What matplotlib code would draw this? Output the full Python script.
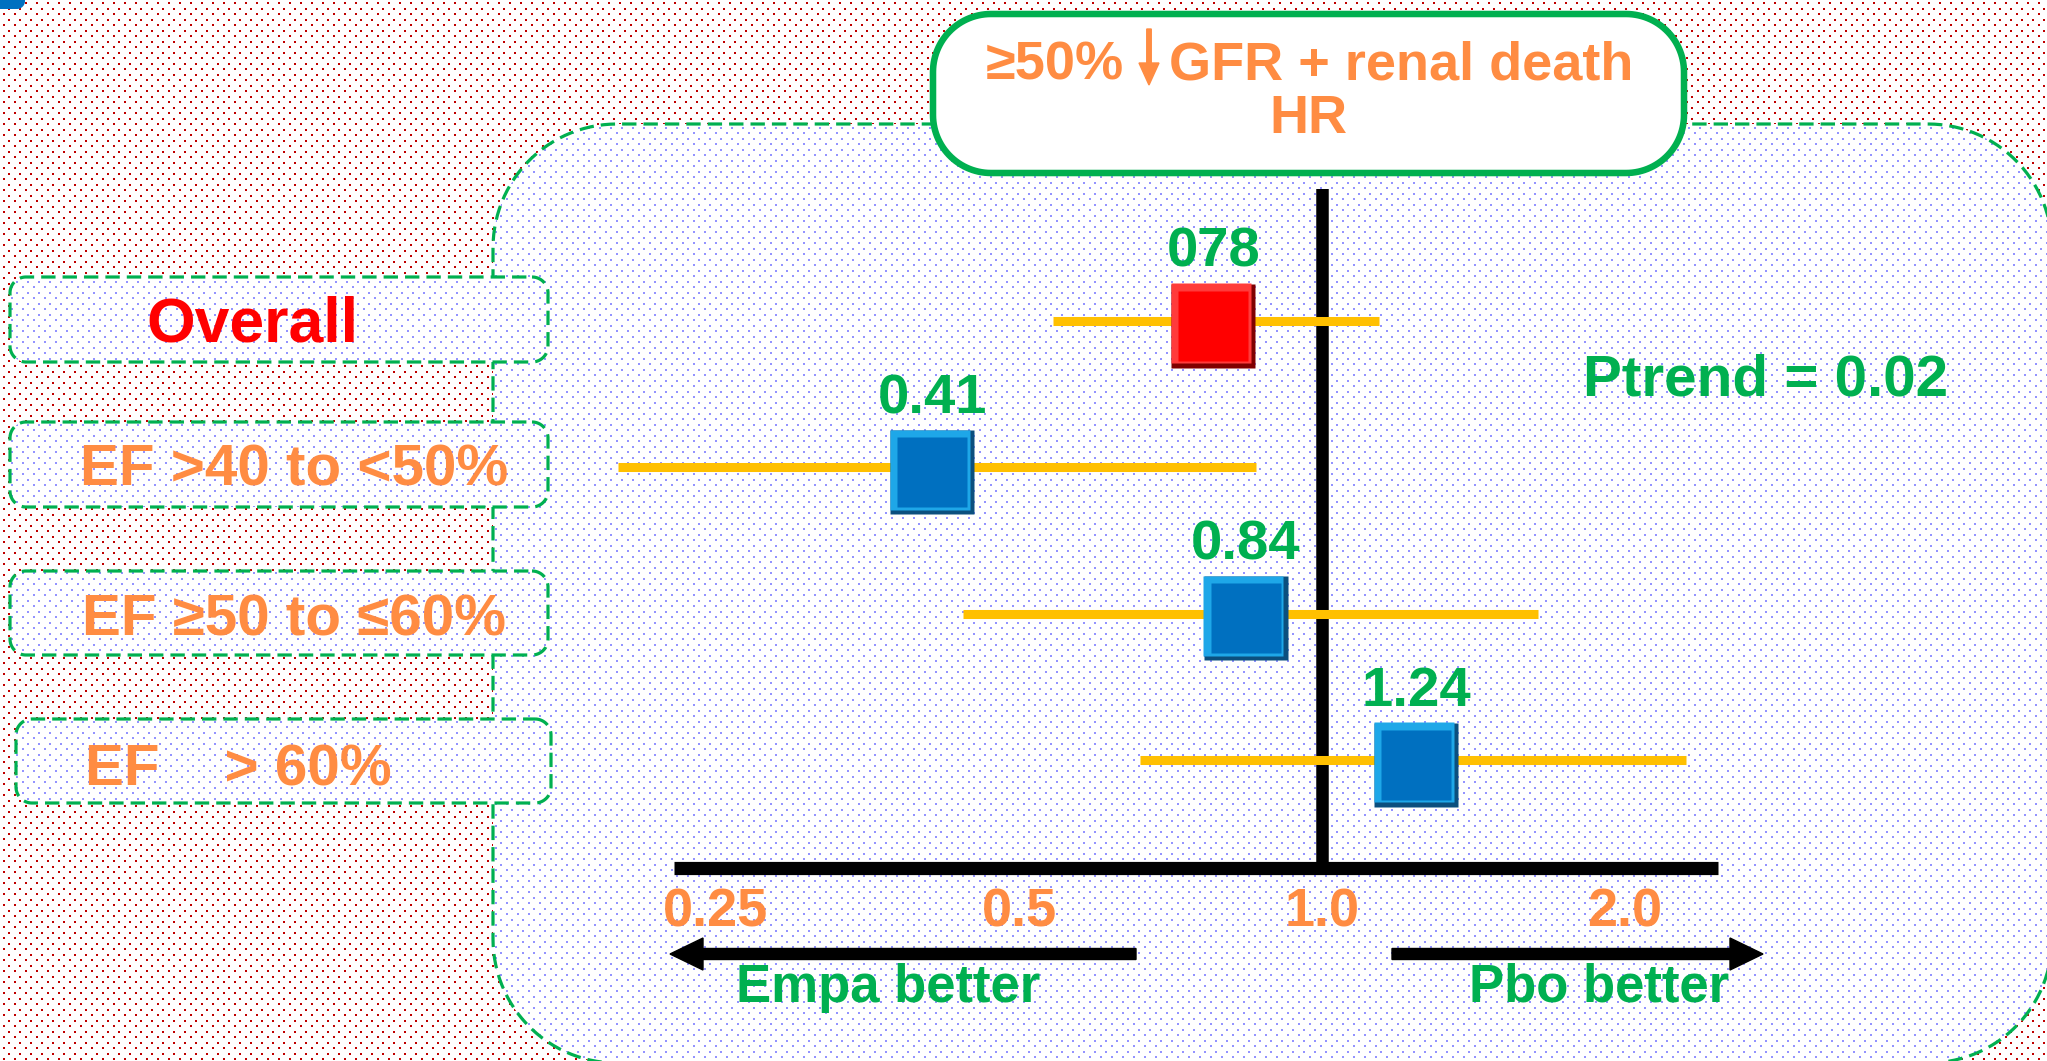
import numpy as np
import matplotlib.pyplot as plt
from matplotlib.patches import Polygon, FancyArrow
from matplotlib.ticker import NullLocator
from matplotlib.transforms import offset_copy

plt.rcParams['font.family'] = ['Liberation Sans', 'DejaVu Sans']
plt.rcParams['font.weight'] = 'bold'

# subgroup results (hazard ratio with 95% CI)
groups = ['Overall', 'EF >40 to <50%', 'EF \u226550 to \u226460%', 'EF    > 60%']
hr = [0.78, 0.41, 0.84, 1.24]
hr_text = ['078', '0.41', '0.84', '1.24']
ci_low = [0.54, 0.20, 0.44, 0.66]
ci_high = [1.14, 0.86, 1.64, 2.30]
p_trend = '0.02'
tick_vals = [0.25, 0.5, 1.0, 2.0]
tick_text = ['0.25', '0.5', '1.0', '2.0']

ORANGE = '#FF8C42'
GREEN = '#00B050'
GOLD = '#FFC000'

W, H = 2047, 1061
fig = plt.figure(figsize=(W / 100, H / 100), dpi=100)

# background canvas in pixel units (y grows downwards)
bg = fig.add_axes([0, 0, 1, 1])
bg.set_xlim(0, W)
bg.set_ylim(H, 0)
bg.axis('off')


def dot_grid(step=11):
    xs = np.arange(0, W + step, step)
    ys = np.arange(0, H + step, step)
    gx, gy = np.meshgrid(xs, ys)
    px = np.concatenate([gx.ravel(), gx.ravel() + step // 2])
    py = np.concatenate([gy.ravel(), gy.ravel() + step // 2 + 1])
    return px + 0.5, py + 0.5


def rounded_rect(x0, y0, x1, y1, r, n=30):
    pts = []
    for cx, cy, a0 in [(x1 - r, y0 + r, -90), (x1 - r, y1 - r, 0),
                       (x0 + r, y1 - r, 90), (x0 + r, y0 + r, 180)]:
        ang = np.radians(np.linspace(a0, a0 + 90, n))
        pts += list(zip(cx + r * np.cos(ang), cy + r * np.sin(ang)))
    return np.array(pts)


dx, dy = dot_grid()

# red dotted backdrop
bg.scatter(dx + 3, dy + 2, s=4.2, marker='s', c='#C00000', linewidths=0, zorder=0)

# top-left tab
bg.add_patch(Polygon(rounded_rect(-40, -40, 25, 9, 8), closed=True, fc='#0070C0', ec='none', zorder=1))


def dotted_box(x0, y0, x1, y1, r, z):
    shape = rounded_rect(x0, y0, x1, y1, r)
    box = Polygon(shape, closed=True, fc='white', ec='none', zorder=z)
    bg.add_patch(box)
    dots = bg.scatter(dx, dy, s=2.6, marker='s', c='#9393FF', linewidths=0, zorder=z + 0.1)
    dots.set_clip_path(box)
    bg.add_patch(Polygon(shape, closed=True, fc='none', ec=GREEN, lw=2.3,
                         ls=(0, (4.5, 2.2)), zorder=z + 0.2))


# main panel
dotted_box(493, 124, 2052, 1063, 124, 1)

# row label boxes
boxes = [(10, 277, 548, 362), (10, 422, 548, 507), (10, 571, 548, 655), (16, 719, 551, 803)]
for bx0, by0, bx1, by1 in boxes:
    dotted_box(bx0, by0, bx1, by1, 16, 2)

label_pos = [(252, 341), (294, 486), (294, 636), (238, 785)]
label_col = ['#FF0000', ORANGE, ORANGE, ORANGE]
label_size = [45, 42, 42, 42]
for name, (lx, ly), col, fs in zip(groups, label_pos, label_col, label_size):
    bg.text(lx, ly, name, ha='center', va='baseline', color=col, fontsize=fs, zorder=3)

# title box
bg.add_patch(Polygon(rounded_rect(933, 14, 1684, 173, 58), closed=True,
                     fc='white', ec=GREEN, lw=4.7, zorder=4))
bg.text(1124, 80, '\u226550%', ha='right', va='baseline', color=ORANGE, fontsize=39, zorder=5)
bg.add_patch(FancyArrow(1149, 29, 0, 56, width=4.5, head_width=20, head_length=22,
                        length_includes_head=True, color=ORANGE, zorder=5))
bg.text(1169, 80, 'GFR + renal death', ha='left', va='baseline', color=ORANGE, fontsize=39, zorder=5)
bg.text(1308, 133, 'HR', ha='center', va='baseline', color=ORANGE, fontsize=39, zorder=5)

bg.text(1766, 396, 'Ptrend = ' + p_trend, ha='center', va='baseline', color=GREEN,
        fontsize=42, zorder=5)

# direction arrows under the axis
bg.add_patch(FancyArrow(1136, 954, 670 - 1136, 0, width=11, head_width=32, head_length=33,
                        length_includes_head=True, color='black', zorder=5))
bg.add_patch(FancyArrow(1392, 954, 1763 - 1392, 0, width=11, head_width=32, head_length=33,
                        length_includes_head=True, color='black', zorder=5))
bg.text(888, 1002, 'Empa better', ha='center', va='baseline', color=GREEN, fontsize=38, zorder=5)
bg.text(1599, 1002, 'Pbo better', ha='center', va='baseline', color=GREEN, fontsize=38, zorder=5)

# forest plot
ax = fig.add_axes([674 / W, 1 - 868 / H, (1718 - 674) / W, (868 - 189) / H])
ax.patch.set_visible(False)
ax.set_xscale('log', base=2)
ax.set_xlim(0.2271, 2.474)
ax.set_ylim(3.739, -0.902)
for side in ['top', 'right', 'left']:
    ax.spines[side].set_visible(False)
ax.spines['bottom'].set_linewidth(9.5)
ax.spines['bottom'].set_capstyle('butt')
ax.set_xticks(tick_vals, tick_text)
ax.xaxis.set_minor_locator(NullLocator())
ax.tick_params(axis='x', length=0, pad=14, labelsize=39, labelcolor=ORANGE)
ax.set_yticks([])

ax.axvline(1.0, color='black', lw=9, zorder=1)

rows = np.arange(len(groups))
ax.hlines(rows, ci_low, ci_high, color=GOLD, lw=6.5, zorder=2, clip_on=False)

# bevelled squares sit a touch below the CI line
shades = [('#7F0000', '#FF3B3B', '#FF0000')] + [('#0B4F7E', '#1EA7E8', '#0070C0')] * 3
base = offset_copy(ax.transData, fig=fig, x=0, y=-3.5, units='points')
lift = offset_copy(ax.transData, fig=fig, x=-1.7, y=-1.8, units='points')
for x, y, (dark, light, face) in zip(hr, rows, shades):
    ax.plot(x, y, 's', ms=60.5, mfc=dark, mec='none', zorder=4, transform=base)
    ax.plot(x, y, 's', ms=57, mfc=light, mec='none', zorder=5, transform=lift)
    ax.plot(x, y, 's', ms=50, mfc=face, mec='none', zorder=6, transform=base)

for x, y, txt in zip(hr, rows, hr_text):
    ax.annotate(txt, (x, y), xytext=(0, 39), textcoords='offset points', ha='center',
                va='baseline', color=GREEN, fontsize=40.5, zorder=7)

fig.savefig('out.png', dpi=100)
